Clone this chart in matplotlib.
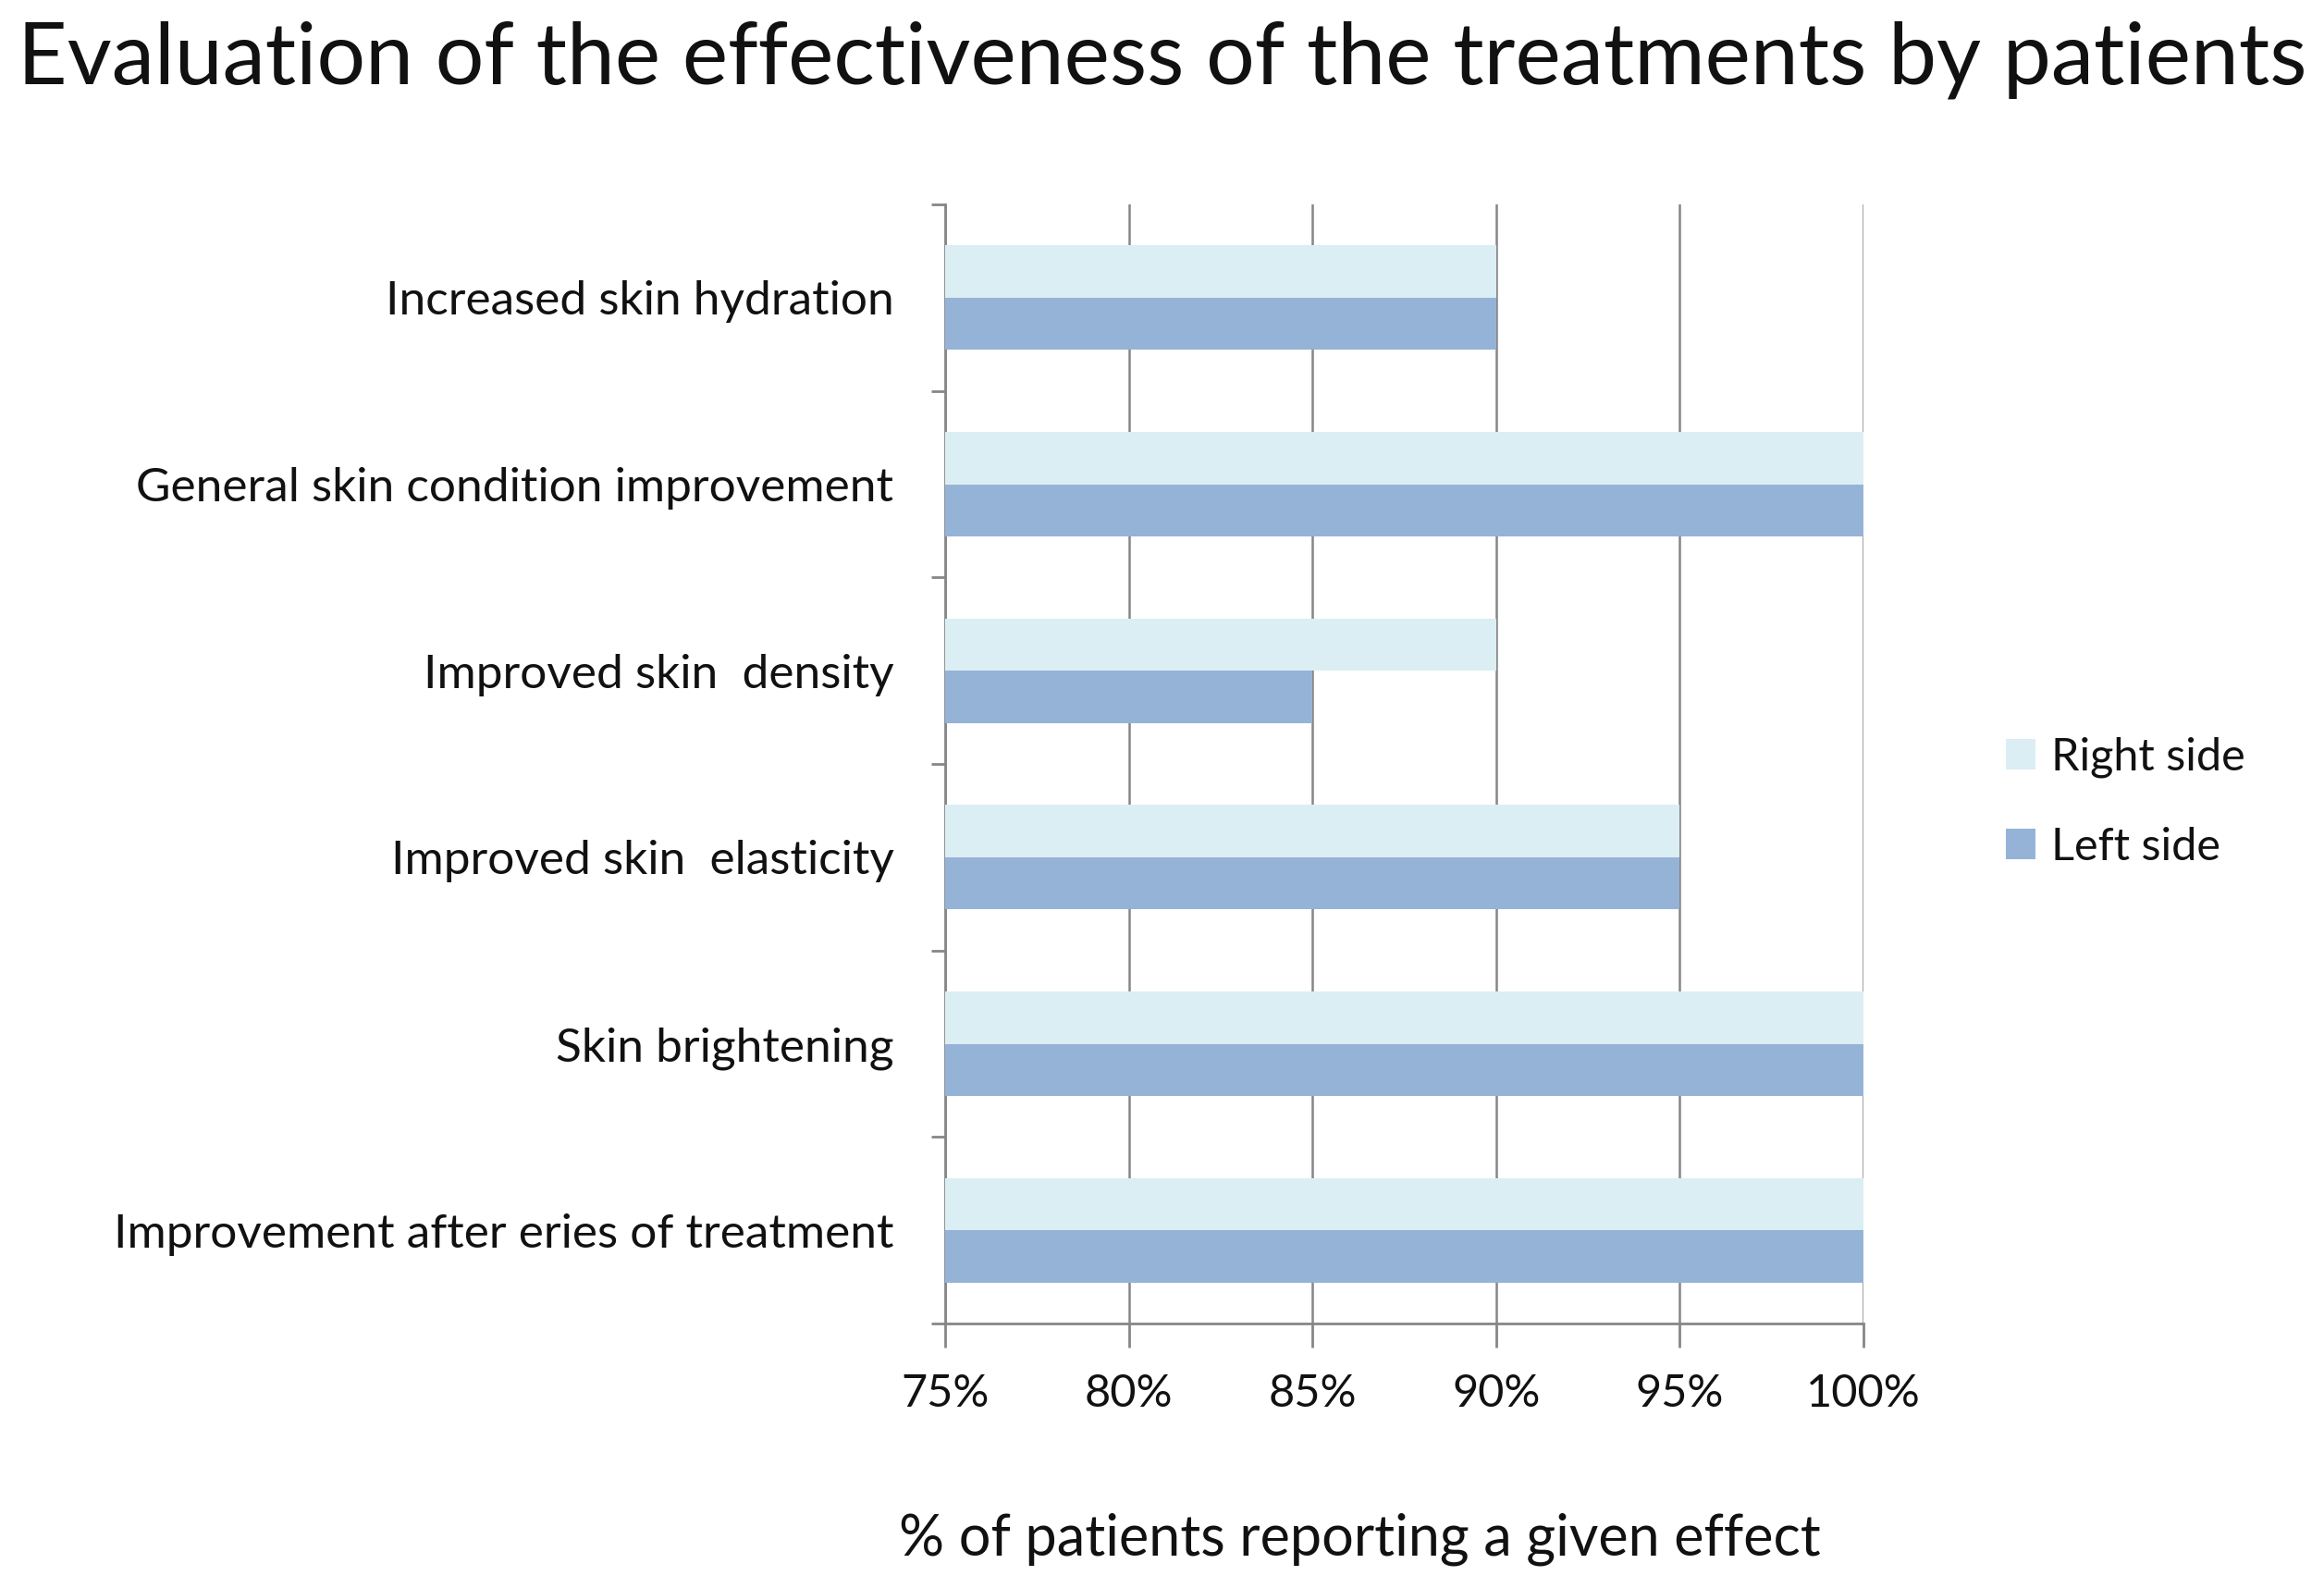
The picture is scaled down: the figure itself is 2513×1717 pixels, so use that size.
import matplotlib
matplotlib.use("Agg")
import matplotlib.pyplot as plt
import numpy as np
from matplotlib.ticker import FixedLocator, PercentFormatter

categories = [
    "Increased skin hydration",
    "General skin condition improvement",
    "Improved skin  density",
    "Improved skin  elasticity",
    "Skin brightening",
    "Improvement after eries of treatment",
]
right_side = [90, 100, 90, 95, 100, 100]
left_side = [90, 100, 85, 95, 100, 100]
series_names = ["Right side", "Left side"]
x_ticks = [75, 80, 85, 90, 95, 100]
title = "Evaluation of the effectiveness of the treatments by patients"
xlabel = "% of patients reporting a given effect"

plt.rcParams['font.family'] = ['Lato', 'DejaVu Sans']

fig = plt.figure(figsize=(25.13, 17.17), dpi=100)
ax = fig.add_axes([1022/2513, 1 - 1431/1717, (2015-1022)/2513, (1431-221)/1717])

y = np.arange(len(categories))
h = 0.28
ax.barh(y - h/2, np.array(right_side) - 75, left=75, height=h, color="#dbeef4",
        label=series_names[0], zorder=3)
ax.barh(y + h/2, np.array(left_side) - 75, left=75, height=h, color="#95b3d7",
        label=series_names[1], zorder=3)

ax.set_xlim(75, 100)
ax.set_ylim(len(categories) - 0.5, -0.5)
ax.set_xticks(x_ticks)
ax.xaxis.set_major_formatter(PercentFormatter(decimals=0))
ax.set_yticks(y)
ax.set_yticklabels(categories)
ax.yaxis.set_minor_locator(FixedLocator(np.arange(-0.5, len(categories), 1.0)))

gc = "#868686"
ax.grid(axis='x', color=gc, linewidth=1.8, zorder=1)
for s in ['top', 'right']:
    ax.spines[s].set_visible(False)
for s in ['left', 'bottom']:
    ax.spines[s].set_color(gc)
    ax.spines[s].set_linewidth(2.0)
ax.set_axisbelow(True)

ax.tick_params(axis='y', which='major', length=0, pad=40, labelsize=37, labelcolor='#111111')
ax.tick_params(axis='y', which='minor', length=11, width=2.0, color=gc, direction='out')
ax.tick_params(axis='x', which='major', length=19, width=2.0, color=gc, direction='out',
               pad=20, labelsize=35, labelcolor='#111111')

ax.set_xlabel(xlabel, fontsize=44, color='#111111', va='center')
ax.xaxis.set_label_coords(0.452, -0.1926)

fig.text(0.5, 0.962, title, ha='center', va='center', fontsize=67, color='#111111')

ax.legend(loc='center left', bbox_to_anchor=(2125/2513, 1 - 867/1717),
          bbox_transform=fig.transFigure, frameon=False, fontsize=35,
          handlelength=0.66, handleheight=0.66, handletextpad=0.35,
          labelspacing=1.08, labelcolor='#111111')

fig.savefig("out.png", dpi=100, facecolor='white')
